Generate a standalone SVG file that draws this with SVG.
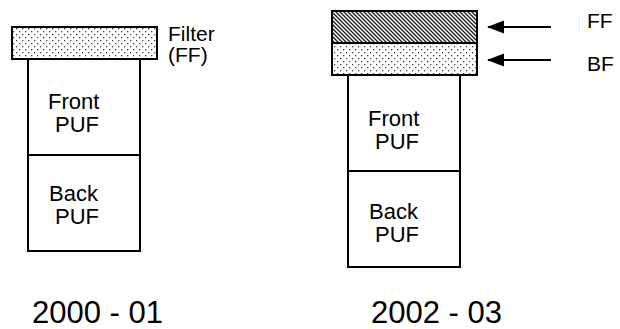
<svg xmlns="http://www.w3.org/2000/svg" width="620" height="329" viewBox="0 0 620 329">
<style>
.box{fill:#fff;stroke:#000;stroke-width:2}
.dots{fill:url(#dots);stroke:#000;stroke-width:2}
.hatch{fill:url(#hatch);stroke:#000;stroke-width:2}
.t{font-family:"Liberation Sans",Arial,sans-serif;font-size:22px;fill:#000}
.l{font-family:"Liberation Sans",Arial,sans-serif;font-size:21px;fill:#000}
.yr{font-family:"Liberation Sans",Arial,sans-serif;font-size:31px;fill:#000}
.arr{stroke:#000;stroke-width:2;fill:none;marker-start:url(#ah)}
</style>
<defs>
<pattern id="dots" width="6" height="6" patternUnits="userSpaceOnUse">
<rect width="6" height="6" fill="#fff"/>
<rect x="1" y="1" width="1.3" height="1.3" fill="#444"/>
<rect x="4" y="4" width="1.3" height="1.3" fill="#444"/>
</pattern>
<pattern id="hatch" width="4" height="4" patternUnits="userSpaceOnUse">
<rect width="4" height="4" fill="#fff"/>
<path d="M-1,-1 L5,5 M-1,3 L1,5 M3,-1 L5,1" stroke="#222" stroke-width="1.4"/>
</pattern>
<marker id="ah" markerWidth="18" markerHeight="14" refX="1" refY="7" orient="auto" markerUnits="userSpaceOnUse">
<path d="M0,7 L17,0.5 L17,13.5 Z" fill="#000"/>
</marker>
</defs>

<g id="left-filter"><rect class="dots" x="12" y="27" width="145" height="32"/></g>
<g id="left-front"><rect class="box" x="28" y="59" width="112" height="96"/>
<text class="t" x="48" y="109">Front</text><text class="t" x="55" y="132">PUF</text></g>
<g id="left-back"><rect class="box" x="28" y="155" width="112" height="96"/>
<text class="t" x="49" y="201">Back</text><text class="t" x="55" y="224">PUF</text></g>
<g id="filter-label"><text class="l" x="168" y="41">Filter</text><text class="l" x="168" y="62">(FF)</text></g>
<g id="year-left"><text class="yr" x="32" y="323">2000 - 01</text></g>

<g id="right-ff"><rect class="hatch" x="332" y="11" width="145" height="32"/></g>
<g id="right-bf"><rect class="dots" x="332" y="43" width="145" height="32"/></g>
<g id="right-front"><rect class="box" x="348" y="75" width="112" height="96"/>
<text class="t" x="368" y="126">Front</text><text class="t" x="375" y="149">PUF</text></g>
<g id="right-back"><rect class="box" x="348" y="171" width="112" height="96"/>
<text class="t" x="369" y="219">Back</text><text class="t" x="375" y="242">PUF</text></g>
<g id="label-ff"><text class="l" x="587" y="28">FF</text></g>
<g id="label-bf"><text class="l" x="587" y="71">BF</text></g>
<g id="year-right"><text class="yr" x="371" y="323">2002 - 03</text></g>

<g id="connectors">
<line class="arr" x1="488" y1="27" x2="551" y2="27"/>
<line class="arr" x1="488" y1="60" x2="551" y2="60"/>
</g>
</svg>
